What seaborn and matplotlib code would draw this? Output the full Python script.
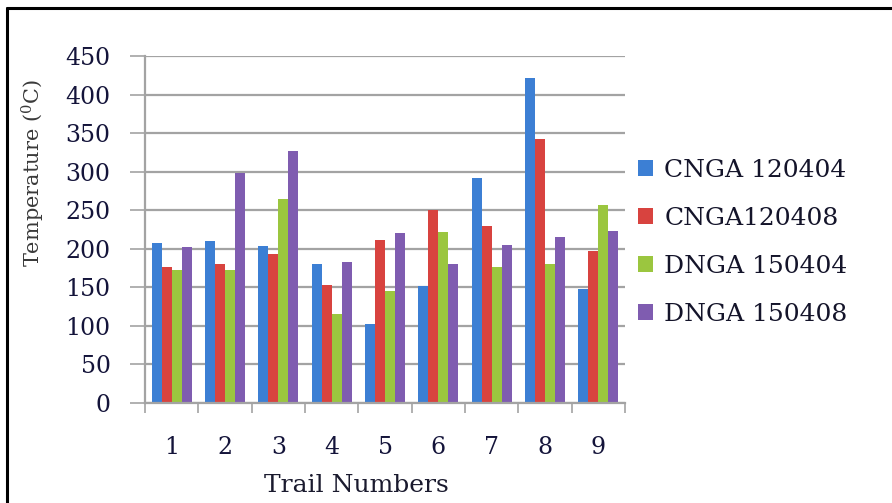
import matplotlib
matplotlib.use("Agg")
import matplotlib.pyplot as plt
import numpy as np
import pandas as pd
import seaborn as sns
from matplotlib.lines import Line2D

# ---- data ----
trails = ["1", "2", "3", "4", "5", "6", "7", "8", "9"]
series_names = ["CNGA 120404", "CNGA120408", "DNGA 150404", "DNGA 150408"]
cnga_120404 = [207, 210, 203, 180, 103, 152, 292, 422, 148]
cnga_120408 = [177, 180, 193, 153, 212, 250, 230, 342, 197]
dnga_150404 = [172, 172, 265, 115, 145, 222, 177, 180, 257]
dnga_150408 = [202, 298, 327, 183, 220, 180, 205, 215, 223]
y_ticks = [0, 50, 100, 150, 200, 250, 300, 350, 400, 450]

colors = ["#3c7fd4", "#d8433f", "#9bc63f", "#7f5cb0"]

rows = []
for name, vals in zip(series_names, [cnga_120404, cnga_120408, dnga_150404, dnga_150408]):
    for t, v in zip(trails, vals):
        rows.append({"Trail": t, "Temp": v, "Series": name})
df = pd.DataFrame(rows)

sns.set_theme(style="white")
plt.rcParams["font.family"] = ["DejaVu Serif"]
plt.rcParams["mathtext.fontset"] = "dejavuserif"

W, H = 892, 503
fig = plt.figure(figsize=(W / 100, H / 100), dpi=100)
fig.patch.set_facecolor("white")
ax = fig.add_axes([145 / W, 1 - 403 / H, 480 / W, 347 / H])

sns.barplot(data=df, x="Trail", y="Temp", hue="Series", order=trails,
            hue_order=series_names, palette=colors, width=0.75, gap=0,
            saturation=1, linewidth=0, ax=ax)

grid_c = "#a3a3a3"
ax.set_xlim(-0.5, len(trails) - 0.5)
ax.set_ylim(0, 450)
ax.set_yticks(y_ticks)
ax.yaxis.grid(True, color=grid_c, lw=1.6)
ax.set_axisbelow(True)
for s in ["top", "right"]:
    ax.spines[s].set_visible(False)
for s in ["left", "bottom"]:
    ax.spines[s].set_color(grid_c)
    ax.spines[s].set_linewidth(1.6)

ax.set_xticks(np.arange(-0.5, len(trails), 1), minor=True)
ax.tick_params(axis="y", left=True, length=10.8, width=1.2, color=grid_c,
               pad=14, labelsize=17, labelcolor="#14143a")
ax.tick_params(axis="x", which="major", bottom=True, length=0, pad=24,
               labelsize=17, labelcolor="#14143a")
ax.tick_params(axis="x", which="minor", bottom=True, length=7.5, width=1.2,
               color=grid_c)

ax.set_xlabel("Trail Numbers", fontsize=18, color="#1a1a2e")
ax.xaxis.set_label_coords((356 - 145) / 480, (403 - 486) / 347)
ax.xaxis.label.set_va("center")
ax.set_ylabel(r"Temperature ($\mathregular{^0}$C)", fontsize=15, color="#3a3a3a")
ax.yaxis.set_label_coords((33 - 145) / 480, (403 - 173) / 347)
ax.yaxis.label.set_va("center")

handles, labels = ax.get_legend_handles_labels()
if ax.get_legend() is not None:
    ax.get_legend().remove()
leg = ax.legend(handles, labels, loc="center left",
                bbox_to_anchor=(638 / W, 1 - 242.5 / H),
                bbox_transform=fig.transFigure, frameon=False, fontsize=18,
                handlelength=0.6, handleheight=0.6, handletextpad=0.45,
                labelspacing=1.0, borderpad=0, borderaxespad=0)
for t in leg.get_texts():
    t.set_color("#14142a")

# outer frame (top and left edges)
fig.add_artist(Line2D([7 / W, 1], [1 - 8 / H, 1 - 8 / H], transform=fig.transFigure,
                      color="black", lw=2.2))
fig.add_artist(Line2D([7 / W, 7 / W], [0, 1 - 8 / H], transform=fig.transFigure,
                      color="black", lw=2.2))

fig.savefig("out.png", dpi=100)
